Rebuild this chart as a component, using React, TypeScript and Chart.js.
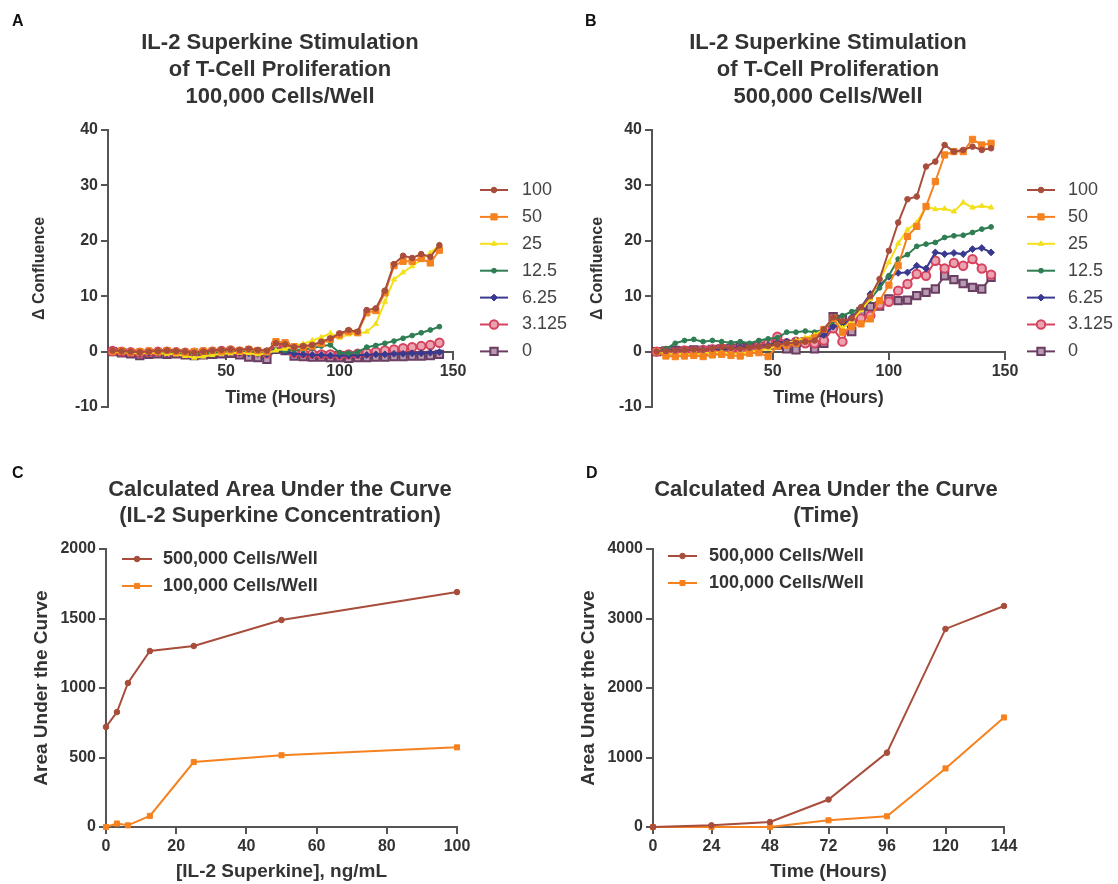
import React, { useEffect, useRef } from 'react';
import { Chart, registerables } from 'chart.js';

Chart.register(...registerables);

// ---------------- DATA ----------------
const TIME_HOURS = [0, 4, 8, 12, 16, 20, 24, 28, 32, 36, 40, 44, 48, 52, 56, 60, 64, 68, 72, 76, 80, 84, 88, 92, 96, 100, 104, 108, 112, 116, 120, 124, 128, 132, 136, 140, 144];
const CONC_LABELS = ['100', '50', '25', '12.5', '6.25', '3.125', '0'];

// Panel A: 100,000 cells/well
const A_100 = [0.2, 0.1, 0.0, -0.1, 0.0, 0.1, 0.2, 0.1, 0.0, -0.2, 0.0, 0.2, 0.3, 0.4, 0.3, 0.5, 0.3, 0.2, 1.5, 1.3, 0.8, 1.0, 1.2, 1.8, 2.4, 3.3, 3.9, 3.6, 7.5, 7.8, 11.0, 15.8, 17.3, 16.9, 17.6, 17.1, 19.2];
const A_50 = [0.0, 0.1, -0.1, 0.0, 0.1, 0.0, 0.2, 0.0, -0.1, 0.0, 0.1, 0.2, 0.1, 0.3, 0.2, 0.4, 0.2, 0.0, 1.8, 1.6, 0.9, 0.8, 1.0, 1.5, 2.2, 3.0, 3.6, 3.4, 7.0, 7.4, 10.6, 15.5, 16.3, 16.3, 16.8, 16.0, 18.3];
const A_25 = [0.0, -0.1, -0.2, -0.3, -0.2, -0.3, -0.4, -0.5, -0.8, -1.1, -0.9, -0.6, -0.4, -0.3, -0.2, -0.3, -0.5, -0.3, 0.2, 0.5, 1.0, 1.4, 2.0, 2.6, 3.3, 2.5, 3.1, 3.2, 3.6, 5.0, 9.0, 13.0, 14.3, 15.4, 16.6, 17.8, 19.3];
const A_12_5 = [0.0, -0.1, -0.2, -0.2, -0.1, -0.2, -0.3, -0.2, -0.3, -0.4, -0.3, -0.2, -0.1, 0.0, -0.1, 0.0, -0.2, -0.3, 0.3, 0.2, 0.3, 0.4, 0.6, 1.0, 1.2, -0.2, -0.3, -0.1, 0.8, 1.1, 1.5, 1.9, 2.4, 2.9, 3.4, 3.9, 4.5];
const A_6_25 = [0.0, -0.1, -0.2, -0.3, -0.2, -0.2, -0.3, -0.3, -0.4, -0.4, -0.3, -0.2, -0.2, -0.1, -0.2, -0.3, -0.4, -0.5, 0.2, 0.0, -0.4, -0.5, -0.6, -0.6, -0.7, -0.7, -0.7, -0.6, -0.6, -0.5, -0.5, -0.4, -0.4, -0.3, -0.3, -0.2, -0.1];
const A_3_125 = [0.1, 0.0, -0.1, -0.2, -0.1, 0.0, 0.0, -0.1, -0.2, -0.2, -0.1, 0.0, 0.1, 0.2, 0.0, 0.1, -0.1, -0.3, 1.3, 1.2, -0.2, -0.3, -0.4, -0.5, -0.5, -0.6, -0.5, -0.4, -0.2, 0.0, 0.2, 0.4, 0.6, 0.8, 1.0, 1.2, 1.6];
const A_0 = [0.0, -0.2, -0.4, -0.7, -0.5, -0.4, -0.5, -0.4, -0.6, -0.7, -0.6, -0.5, -0.4, -0.3, -0.6, -1.0, -1.1, -1.4, 0.4, 0.2, -0.8, -0.9, -1.0, -1.0, -1.1, -1.1, -1.2, -1.1, -1.1, -1.0, -1.0, -0.9, -0.9, -0.8, -0.8, -0.7, -0.5];

// Panel B: 500,000 cells/well
const B_100 = [0.0, 0.1, 0.2, 0.3, 0.4, 0.3, 0.5, 0.8, 0.6, 0.5, 0.7, 0.9, 1.0, 1.3, 1.5, 1.6, 1.8, 2.0, 4.0, 6.2, 5.5, 6.0, 8.0, 10.0, 13.1, 18.2, 23.3, 27.5, 28.0, 33.4, 34.3, 37.3, 36.1, 36.4, 37.0, 36.4, 36.7];
const B_50 = [0.0, -0.8, -0.9, -0.8, -0.7, -0.9, -0.6, -0.5, -0.7, -0.8, -0.3, -0.2, -0.9, 1.0, 1.2, 1.5, 2.0, 2.5, 4.0, 6.0, 3.5, 4.5, 5.0, 5.9, 9.2, 12.0, 15.5, 20.8, 22.6, 26.2, 30.7, 35.5, 36.1, 36.1, 38.3, 37.3, 37.6];
const B_25 = [0.0, -0.3, -0.5, -0.4, -0.6, -0.3, -0.2, -0.1, -0.3, -0.4, 0.0, 0.2, 0.5, 1.0, 1.5, 2.0, 2.5, 3.0, 4.0, 6.0, 4.2, 5.5, 7.5, 9.5, 13.0, 16.1, 19.5, 22.0, 23.3, 26.2, 25.7, 25.8, 25.3, 26.9, 26.0, 26.3, 26.0];
const B_12_5 = [0.0, 0.5, 1.5, 2.0, 2.2, 1.8, 2.0, 1.8, 1.6, 1.8, 1.5, 2.0, 2.3, 2.5, 3.5, 3.5, 3.7, 3.5, 4.0, 5.5, 6.5, 7.2, 7.8, 9.5, 11.5, 13.7, 16.7, 17.5, 19.0, 19.4, 19.7, 20.6, 20.9, 21.0, 21.5, 22.1, 22.5];
const B_6_25 = [0.0, 0.2, 0.3, 0.2, 0.4, 0.3, 0.5, 0.4, 0.6, 0.8, 0.7, 1.0, 1.2, 1.5, 1.8, 2.0, 2.2, 2.5, 3.0, 4.5, 5.0, 6.2, 8.0, 10.4, 12.0, 13.5, 14.2, 14.3, 15.5, 15.0, 17.9, 17.6, 17.8, 17.6, 18.5, 18.7, 17.9];
const B_3_125 = [0.0, 0.1, 0.0, 0.2, 0.1, 0.3, 0.4, 0.6, 0.5, 0.3, 0.5, 1.0, 1.5, 2.7, 1.5, 1.8, 1.5, 1.5, 2.0, 4.2, 1.8, 5.4, 6.0, 6.5, 8.5, 9.0, 11.0, 12.2, 14.0, 13.7, 16.4, 15.0, 16.0, 15.5, 16.7, 15.0, 13.9];
const B_0 = [0.0, 0.1, 0.2, 0.1, 0.3, 0.2, 0.4, 0.5, 0.6, 0.8, 0.7, 1.0, 1.2, 1.2, 0.5, 0.3, 1.8, 0.5, 1.5, 6.3, 5.8, 3.6, 7.2, 8.1, 8.2, 9.5, 9.2, 9.3, 10.1, 10.7, 11.3, 13.7, 13.0, 12.3, 11.6, 11.3, 13.4];

// Panel C: AUC vs concentration
const AUC_CONC = [0, 3.125, 6.25, 12.5, 25, 50, 100];
const AUC_CONC_500K = [720, 827, 1036, 1266, 1302, 1489, 1690];
const AUC_CONC_100K = [0, 25, 12, 80, 467, 516, 573];

// Panel D: AUC vs time
const AUC_TIME = [0, 24, 48, 72, 96, 120, 144];
const AUC_TIME_500K = [0, 24, 72, 395, 1070, 2850, 3180];
const AUC_TIME_100K = [0, 0, 0, 96, 154, 843, 1576];

const CELL_LABELS = ['500,000 Cells/Well', '100,000 Cells/Well'];

// Tick labels
const X_TICKS_AB = [50, 100, 150];
const Y_TICKS_AB = [-10, 0, 10, 20, 30, 40];
const X_TICKS_C = [0, 20, 40, 60, 80, 100];
const Y_TICKS_C = [0, 500, 1000, 1500, 2000];
const X_TICKS_D = [0, 24, 48, 72, 96, 120, 144];
const Y_TICKS_D = [0, 1000, 2000, 3000, 4000];

// ---------------- STYLE ----------------
const FONT = "'Liberation Sans', Arial, Helvetica, sans-serif";
const TEXT = '#333333';
const AXIS = '#555555';

const SERIES_STYLE = [
  { color: '#A84D3B', fill: '#A84D3B', shape: 'circle', r: 2.8, bw: 1 },
  { color: '#F5821F', fill: '#F5821F', shape: 'rect', r: 4.4, bw: 1 },
  { color: '#F4E01A', fill: '#F4E01A', shape: 'triangle', r: 3, bw: 1 },
  { color: '#2F7D52', fill: '#2F7D52', shape: 'circle', r: 2.4, bw: 1 },
  { color: '#393A8F', fill: '#393A8F', shape: 'rectRot', r: 3.4, bw: 1 },
  { color: '#D6435F', fill: '#EAA3B0', shape: 'circle', r: 4.2, bw: 2 },
  { color: '#6A3D62', fill: '#B79AB1', shape: 'rect', r: 5.2, bw: 2 },
];

const AUC_STYLE = [
  { color: '#A84D3B', fill: '#A84D3B', shape: 'circle', r: 2.8, bw: 1 },
  { color: '#F5821F', fill: '#F5821F', shape: 'rect', r: 3.6, bw: 1 },
];

function drawMarker(ctx: CanvasRenderingContext2D, shape: string, x: number, y: number, r: number, fill: string, stroke: string, bw: number) {
  ctx.save();
  ctx.fillStyle = fill;
  ctx.strokeStyle = stroke;
  ctx.lineWidth = bw;
  ctx.beginPath();
  if (shape === 'circle') {
    ctx.arc(x, y, r, 0, Math.PI * 2);
  } else if (shape === 'rect') {
    const s = r * Math.SQRT1_2;
    ctx.rect(x - s, y - s, 2 * s, 2 * s);
  } else if (shape === 'rectRot') {
    ctx.moveTo(x, y - r);
    ctx.lineTo(x + r, y);
    ctx.lineTo(x, y + r);
    ctx.lineTo(x - r, y);
    ctx.closePath();
  } else if (shape === 'triangle') {
    let a = 0;
    ctx.moveTo(x + Math.sin(a) * r, y - Math.cos(a) * r);
    a += (2 * Math.PI) / 3;
    ctx.lineTo(x + Math.sin(a) * r, y - Math.cos(a) * r);
    a += (2 * Math.PI) / 3;
    ctx.lineTo(x + Math.sin(a) * r, y - Math.cos(a) * r);
    ctx.closePath();
  }
  ctx.fill();
  if (bw > 0) ctx.stroke();
  ctx.restore();
}

const decorPlugin = {
  id: 'decor',
  afterDraw(chart: any, _args: any, opts: any) {
    const ctx: CanvasRenderingContext2D = chart.ctx;
    ctx.save();
    if (opts.letter) {
      ctx.font = `bold 16px ${FONT}`;
      ctx.fillStyle = '#111';
      ctx.textAlign = 'left';
      ctx.textBaseline = 'middle';
      ctx.fillText(opts.letter, opts.letterX, opts.letterY);
    }
    if (opts.titleLines) {
      ctx.font = `bold ${opts.titleSize}px ${FONT}`;
      ctx.fillStyle = TEXT;
      ctx.textAlign = 'center';
      ctx.textBaseline = 'middle';
      opts.titleLines.forEach((l: string, i: number) => ctx.fillText(l, opts.titleX, opts.titleY + i * opts.titleGap));
    }
    if (opts.legendX0 !== undefined) {
      chart.data.datasets.forEach((ds: any, i: number) => {
        const y = opts.legendY + i * opts.legendGap;
        ctx.strokeStyle = ds.borderColor;
        ctx.lineWidth = 2;
        ctx.beginPath();
        ctx.moveTo(opts.legendX0, y);
        ctx.lineTo(opts.legendX1, y);
        ctx.stroke();
        drawMarker(ctx, ds.pointStyle, (opts.legendX0 + opts.legendX1) / 2, y, ds.pointRadius, ds.pointBackgroundColor, ds.pointBorderColor, ds.pointBorderWidth);
        ctx.font = opts.legendFont;
        ctx.fillStyle = opts.legendColor;
        ctx.textAlign = 'left';
        ctx.textBaseline = 'middle';
        ctx.fillText(ds.label, opts.legendTX, y);
      });
    }
    ctx.restore();
  },
};

function makeDataset(label: string, xs: number[], ys: number[], st: any) {
  return {
    label,
    data: xs.map((x, i) => ({ x, y: ys[i] })),
    borderColor: st.color,
    backgroundColor: st.fill,
    borderWidth: 2,
    pointStyle: st.shape,
    pointRadius: st.r,
    pointBackgroundColor: st.fill,
    pointBorderColor: st.color,
    pointBorderWidth: st.bw,
    tension: 0,
    clip: false,
  };
}

function axisBase(tickSize: number) {
  return {
    border: { display: true, color: AXIS, width: 2 },
    grid: { display: true, drawOnChartArea: false, drawTicks: true, tickLength: 7, color: AXIS, lineWidth: 2 },
    ticks: {
      color: TEXT,
      font: { family: FONT, size: tickSize, weight: 'bold' },
      padding: 3,
      autoSkip: false,
      maxRotation: 0,
      minRotation: 0,
      callback: (v: any) => String(v),
    },
  };
}

function fixedTicks(values: number[]) {
  return (scale: any) => {
    scale.ticks = values.map((v) => ({ value: v }));
  };
}

function timecourseConfig(series: number[][], p: any) {
  const datasets = CONC_LABELS.map((lab, i) => makeDataset(lab, TIME_HOURS, series[i], SERIES_STYLE[i]));
  return {
    type: 'line',
    data: { datasets },
    plugins: [decorPlugin],
    options: {
      animation: false,
      responsive: false,
      devicePixelRatio: 1,
      layout: { padding: { left: 0, top: 130, right: p.padRight, bottom: 35 } },
      plugins: {
        legend: { display: false },
        tooltip: { enabled: false },
        title: { display: false },
        decor: {
          letter: p.letter, letterX: p.letterX, letterY: 22,
          titleLines: p.titleLines, titleSize: 22, titleX: p.titleX, titleY: 43, titleGap: 27,
          legendX0: p.legX0, legendX1: p.legX1, legendTX: p.legTX, legendY: 190, legendGap: 26.9,
          legendFont: `18px ${FONT}`, legendColor: '#444444',
        },
      },
      scales: {
        x: {
          type: 'linear',
          min: -2,
          max: 150,
          position: { y: 0 },
          ...axisBase(16),
          afterBuildTicks: fixedTicks(X_TICKS_AB),
          afterFit: (s: any) => { s.height = 57; },
          title: { display: true, text: 'Time (Hours)', color: TEXT, font: { family: FONT, size: 18, weight: 'bold' }, padding: { top: 0, bottom: 0 } },
        },
        y: {
          type: 'linear',
          min: -10,
          max: 40,
          position: 'left',
          ...axisBase(16),
          afterBuildTicks: fixedTicks(Y_TICKS_AB),
          afterFit: (s: any) => { s.width = p.yWidth; },
          title: { display: true, text: 'Δ Confluence', color: TEXT, font: { family: FONT, size: 16, weight: 'bold' }, padding: { top: p.yTitlePad, bottom: 0 } },
        },
      },
    },
  };
}

function aucConfig(xs: number[], s500: number[], s100: number[], p: any) {
  const datasets = [
    makeDataset(CELL_LABELS[0], xs, s500, AUC_STYLE[0]),
    makeDataset(CELL_LABELS[1], xs, s100, AUC_STYLE[1]),
  ];
  return {
    type: 'line',
    data: { datasets },
    plugins: [decorPlugin],
    options: {
      animation: false,
      responsive: false,
      devicePixelRatio: 1,
      layout: { padding: { left: 0, top: 107, right: p.padRight, bottom: 0 } },
      plugins: {
        legend: { display: false },
        tooltip: { enabled: false },
        title: { display: false },
        decor: {
          letter: p.letter, letterX: p.letterX, letterY: 32,
          titleLines: p.titleLines, titleSize: 22, titleX: p.titleX, titleY: 48, titleGap: 26,
          legendX0: p.legX0, legendX1: p.legX1, legendTX: p.legTX, legendY: p.legY, legendGap: 27,
          legendFont: `bold 18px ${FONT}`, legendColor: TEXT,
        },
      },
      scales: {
        x: {
          type: 'linear',
          min: 0,
          max: p.xMax,
          position: 'bottom',
          ...axisBase(16),
          afterBuildTicks: fixedTicks(p.xTicks),
          afterFit: (s: any) => { s.height = 57; },
          title: { display: true, text: p.xTitle, color: TEXT, font: { family: FONT, size: 19, weight: 'bold' }, padding: { top: 0, bottom: 1 } },
        },
        y: {
          type: 'linear',
          min: 0,
          max: p.yMax,
          position: 'left',
          ...axisBase(16),
          afterBuildTicks: fixedTicks(p.yTicks),
          afterFit: (s: any) => { s.width = p.yWidth; },
          title: { display: true, text: 'Area Under the Curve', color: TEXT, font: { family: FONT, size: 19, weight: 'bold' }, padding: { top: p.yTitlePad, bottom: 0 } },
        },
      },
    },
  };
}

function ChartPanel({ left, top, width, height, build }: { left: number; top: number; width: number; height: number; build: () => any }) {
  const ref = useRef<HTMLCanvasElement>(null);
  useEffect(() => {
    const chart = new Chart(ref.current as HTMLCanvasElement, build());
    return () => chart.destroy();
  }, []);
  return (
    <canvas
      ref={ref}
      width={width}
      height={height}
      style={{ position: 'absolute', left, top, width, height, display: 'block' }}
    />
  );
}

export default function App() {
  return (
    <div style={{ position: 'absolute', left: 0, top: 0, width: 1118, height: 884, background: '#ffffff', overflow: 'hidden' }}>
      <ChartPanel
        left={0} top={0} width={600} height={442}
        build={() => timecourseConfig([A_100, A_50, A_25, A_12_5, A_6_25, A_3_125, A_0], {
          letter: 'A', letterX: 12, padRight: 147, yWidth: 108, yTitlePad: 30,
          titleLines: ['IL-2 Superkine Stimulation', 'of T-Cell Proliferation', '100,000 Cells/Well'], titleX: 280,
          legX0: 480, legX1: 508, legTX: 522,
        })}
      />
      <ChartPanel
        left={559} top={0} width={559} height={442}
        build={() => timecourseConfig([B_100, B_50, B_25, B_12_5, B_6_25, B_3_125, B_0], {
          letter: 'B', letterX: 26, padRight: 113, yWidth: 93, yTitlePad: 29,
          titleLines: ['IL-2 Superkine Stimulation', 'of T-Cell Proliferation', '500,000 Cells/Well'], titleX: 269,
          legX0: 468, legX1: 496, legTX: 509,
        })}
      />
      <ChartPanel
        left={0} top={442} width={559} height={442}
        build={() => aucConfig(AUC_CONC, AUC_CONC_500K, AUC_CONC_100K, {
          letter: 'C', letterX: 12, padRight: 102, yWidth: 106, yTitlePad: 30,
          titleLines: ['Calculated Area Under the Curve', '(IL-2 Superkine Concentration)'], titleX: 280,
          legX0: 122, legX1: 152, legTX: 163, legY: 117,
          xMax: 100, xTicks: X_TICKS_C, yMax: 2000, yTicks: Y_TICKS_C, xTitle: '[IL-2 Superkine], ng/mL',
        })}
      />
      <ChartPanel
        left={559} top={442} width={559} height={442}
        build={() => aucConfig(AUC_TIME, AUC_TIME_500K, AUC_TIME_100K, {
          letter: 'D', letterX: 27, padRight: 114, yWidth: 94, yTitlePad: 18,
          titleLines: ['Calculated Area Under the Curve', '(Time)'], titleX: 267,
          legX0: 109, legX1: 138, legTX: 150, legY: 114,
          xMax: 144, xTicks: X_TICKS_D, yMax: 4000, yTicks: Y_TICKS_D, xTitle: 'Time (Hours)',
        })}
      />
    </div>
  );
}
